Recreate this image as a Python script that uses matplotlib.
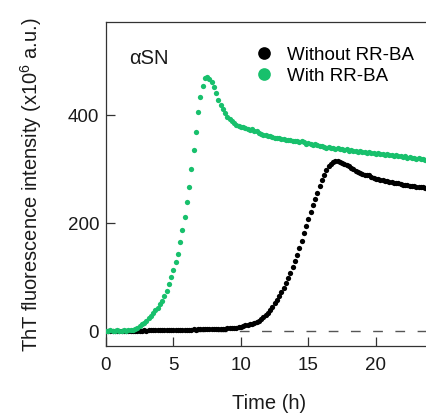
import numpy as np
import matplotlib
matplotlib.use('Agg')
import matplotlib.pyplot as plt

plt.rcParams['font.family'] = ['Liberation Sans', 'DejaVu Sans']
plt.rcParams['mathtext.fontset'] = 'custom'
plt.rcParams['mathtext.rm'] = 'Liberation Sans'

# ThT readings every 10 min (x10^6 a.u.)
sample_min = 10

without_rrba = [0, 0, 0, 0, 0, 0, 0, 0, 0, 0, 0, 0,
                0, 0, 0, 0, 0, 1, 0, 1, 1, 1, 1, 1, 1, 1, 1, 1, 2, 1, 2, 2, 2, 2,
                2, 2, 2, 2, 2, 3, 2, 3, 3, 3, 3, 3, 3, 3,
                3, 3, 4, 4, 4, 4, 5, 5, 5, 6, 6, 7,
                8, 9, 10, 11, 12, 13, 15, 17, 19,
                22, 25, 29, 34, 39, 45, 51, 57, 64, 72, 80, 89, 98, 108, 118, 129,
                141, 154, 167, 181, 194, 207, 220, 233, 245, 256, 268, 279, 289,
                298, 305, 309, 312, 314, 314, 313, 311, 309, 307, 305, 302, 300,
                297, 295, 293, 291, 289, 288, 288, 285, 284, 282, 281, 280, 279,
                278, 277, 276, 276, 274, 274, 273, 272, 271, 271, 270, 269, 269,
                268, 267, 267, 266, 266, 265, 264, 264, 263]

with_rrba = [0, 0, 1, 0, 0, 1, 0, 0, 1, 0, 1, 1,
             2, 4, 6, 9, 12, 15, 19, 23, 28, 33, 38, 43, 49, 56, 65, 74, 86, 99,
             112, 127, 143, 164, 186, 210, 238, 267, 299, 335, 368, 406, 434,
             454, 469, 471, 467, 461, 451, 441, 428,
             418, 410, 403, 397, 392, 388, 385, 382, 380, 378,
             378, 376, 374, 372, 373, 371, 370, 366, 364, 363,
             362, 361, 360, 359, 358, 357, 357, 355, 356, 354,
             353, 354, 352, 351, 352, 350, 351, 349, 347, 348,
             346, 345, 346, 344, 342, 343, 341, 339, 341, 338,
             339, 337, 338, 336, 337, 335, 336, 334, 335, 333,
             334, 332, 333, 331, 332, 330, 331, 329, 330, 328,
             329, 327, 328, 326, 327, 325, 326, 324, 325, 323,
             324, 322, 323, 321, 322, 320, 321, 319, 320, 318,
             319, 317, 318, 316, 317]

labels = ['Without RR-BA', 'With RR-BA']
colors = ['#000000', '#18c06c']

t_without = np.arange(len(without_rrba)) * sample_min / 60
t_with = np.arange(len(with_rrba)) * sample_min / 60

fig = plt.figure(figsize=(4.27, 4.14), dpi=100)
ax = fig.add_axes([0.2482, 0.1618, 0.7635, 0.7826])

ax.axhline(0, color='#555555', lw=1.0, dashes=(7, 9), zorder=1)
ax.plot(t_without, without_rrba, 'o', ms=3.8, mew=0, color=colors[0], label=labels[0], zorder=2)
ax.plot(t_with, with_rrba, 'o', ms=3.8, mew=0, color=colors[1], label=labels[1], zorder=3)

ax.set_xlim(0, 24.15)
ax.set_ylim(-28, 572)
ax.set_xticks([0, 5, 10, 15, 20])
ax.set_yticks([0, 200, 400])

for s in ax.spines.values():
    s.set_color('#333333')
    s.set_linewidth(0.9)
ax.tick_params(direction='in', length=6.5, width=0.9, color='#333333',
               labelsize=13.5, labelcolor='#1a1a1a')
ax.tick_params(axis='x', pad=7)
ax.tick_params(axis='y', pad=5)

ax.set_xlabel('Time (h)', fontsize=14.5, color='#1a1a1a')
ax.set_ylabel(r'ThT fluorescence intensity (x10$^{6}$ a.u.)', fontsize=14.5, color='#1a1a1a')
ax.xaxis.set_label_coords(0.5, -0.145)
ax.yaxis.set_label_coords(-0.19, 0.5)

ax.text(0.07, 0.892, 'αSN', transform=ax.transAxes, fontsize=14.5,
        va='center', ha='left', color='#1a1a1a')

ax.legend(loc='upper left', bbox_to_anchor=(0.403, 0.978), frameon=False,
          fontsize=13.5, markerscale=2.4, handlelength=1.0, handletextpad=0.75,
          labelspacing=0.21, borderaxespad=0.5)

fig.savefig('out.png', dpi=100)
